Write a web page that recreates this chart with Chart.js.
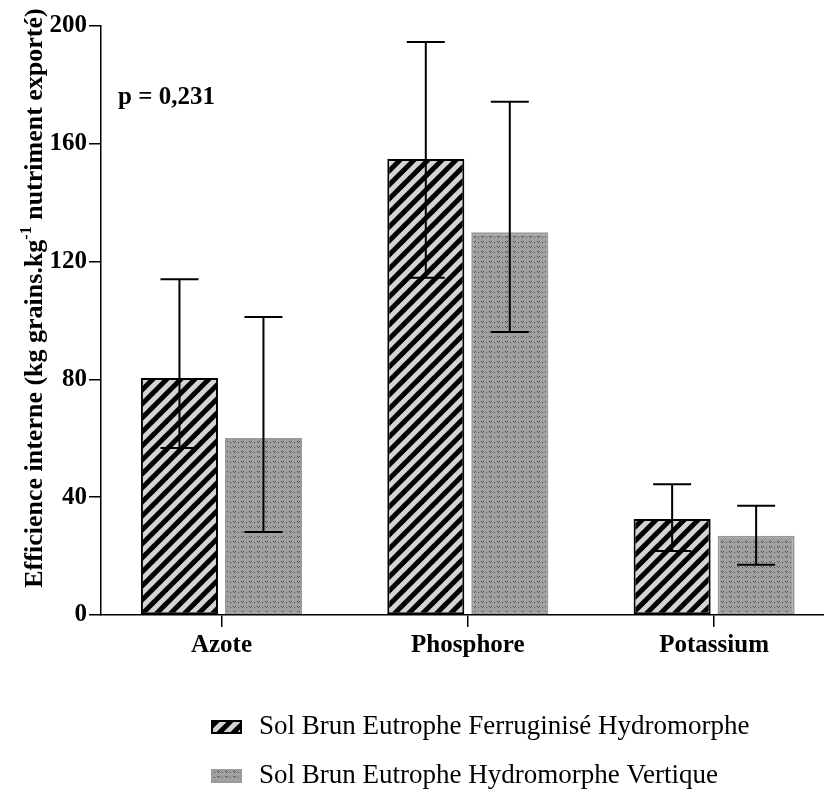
<!DOCTYPE html>
<html>
<head>
<meta charset="utf-8">
<script src="https://cdn.jsdelivr.net/npm/chart.js@4"></script>
<style>
  html, body { margin: 0; padding: 0; background: #fff; }
  #wrap { width: 824px; height: 789px; }
</style>
</head>
<body>
<div id="wrap"><canvas id="chart" width="824" height="789"></canvas></div>
<script>
// categories and series
const categories = ['Azote', 'Phosphore', 'Potassium'];
const seriesNames = [
  'Sol Brun Eutrophe Ferruginisé Hydromorphe',
  'Sol Brun Eutrophe Hydromorphe Vertique',
];
const ferruMeans = [80.5, 154.8, 32.6];
const ferruHigh  = [114.0, 194.6, 44.4];
const ferruLow   = [56.7, 114.5, 21.7];
const vertiMeans = [60.1, 130.0, 26.9];
const vertiHigh  = [101.2, 174.3, 37.1];
const vertiLow   = [28.2, 96.1, 17.1];
const yTicks = [0, 40, 80, 120, 160, 200];
const pLabel = 'p = 0,231';

const SERIF = '"Liberation Serif", "Times New Roman", serif';

function hatchPattern(ctx) {
  const c = document.createElement('canvas');
  c.width = 14; c.height = 14;
  const g = c.getContext('2d');
  g.fillStyle = '#d4d4d4';
  g.fillRect(0, 0, 14, 14);
  g.strokeStyle = '#000';
  g.lineWidth = 5;
  g.lineCap = 'square';
  [[-7, 7, 7, -7], [0, 14, 14, 0], [7, 21, 21, 7]].forEach(([a, b, c2, d]) => {
    g.beginPath(); g.moveTo(a, b); g.lineTo(c2, d); g.stroke();
  });
  return ctx.createPattern(c, 'repeat');
}

function dotPattern(ctx) {
  const c = document.createElement('canvas');
  c.width = 8; c.height = 5;
  const g = c.getContext('2d');
  g.fillStyle = '#a0a0a0';
  g.fillRect(0, 0, 8, 5);
  g.fillStyle = '#505050';
  // little "v" marks
  g.fillRect(1, 1, 1, 1);
  g.fillRect(3, 1, 1, 1);
  g.fillRect(2, 2, 1, 1);
  g.fillRect(6, 2, 1, 1);
  return ctx.createPattern(c, 'repeat');
}

const canvas = document.getElementById('chart');
const ctx = canvas.getContext('2d');
const hatch = hatchPattern(ctx);
const dots = dotPattern(ctx);

const errors = [
  { high: ferruHigh, low: ferruLow },
  { high: vertiHigh, low: vertiLow },
];

const errorBars = {
  id: 'errorBars',
  afterDatasetsDraw(chart) {
    const g = chart.ctx;
    const y = chart.scales.y;
    g.save();
    g.strokeStyle = '#000';
    g.lineWidth = 2;
    chart.data.datasets.forEach((ds, di) => {
      chart.getDatasetMeta(di).data.forEach((bar, i) => {
        const hi = y.getPixelForValue(errors[di].high[i]);
        const lo = y.getPixelForValue(errors[di].low[i]);
        const half = 19;
        g.beginPath();
        g.moveTo(bar.x, lo); g.lineTo(bar.x, hi);
        g.moveTo(bar.x - half, hi); g.lineTo(bar.x + half, hi);
        g.moveTo(bar.x - half, lo); g.lineTo(bar.x + half, lo);
        g.stroke();
      });
    });
    g.restore();
  },
};

const extras = {
  id: 'extras',
  afterDraw(chart) {
    const g = chart.ctx;
    g.save();
    g.fillStyle = '#000';

    // p value
    g.font = 'bold 25px ' + SERIF;
    g.textBaseline = 'middle';
    g.textAlign = 'left';
    g.fillText(pLabel, 118, 98);

    // y axis title with superscript
    const big = 'bold 26px ' + SERIF;
    const small = 'bold 16px ' + SERIF;
    const parts = [
      ['Efficience interne (kg grains.kg', big, 0],
      ['-1', small, -11],
      [' nutriment exporté)', big, 0],
    ];
    let total = 0;
    parts.forEach(p => { g.font = p[1]; total += g.measureText(p[0]).width; });
    g.textBaseline = 'alphabetic';
    g.translate(42, 298);
    g.rotate(-Math.PI / 2);
    let x = -total / 2;
    parts.forEach(p => {
      g.font = p[1];
      g.fillText(p[0], x, p[2]);
      x += g.measureText(p[0]).width;
    });
    g.setTransform(1, 0, 0, 1, 0, 0);

    // legend
    const fills = [hatch, dots];
    const borders = ['#000', '#9a9a9a'];
    const rows = [727, 776];
    g.textBaseline = 'middle';
    g.font = '27px ' + SERIF;
    seriesNames.forEach((name, i) => {
      g.fillStyle = fills[i];
      g.fillRect(211, rows[i] - 7, 31, 14);
      g.strokeStyle = borders[i];
      g.lineWidth = 2;
      g.strokeRect(212, rows[i] - 6, 29, 12);
      g.fillStyle = '#000';
      g.fillText(name, 259, rows[i]);
    });
    g.restore();
  },
};

new Chart(canvas, {
  type: 'bar',
  data: {
    datasets: [
      {
        label: seriesNames[0],
        data: ferruMeans.map((v, i) => ({ x: i, y: v })),
        backgroundColor: hatch,
        borderColor: '#000',
        borderWidth: 2,
        borderSkipped: false,
      },
      {
        label: seriesNames[1],
        data: vertiMeans.map((v, i) => ({ x: i, y: v })),
        backgroundColor: dots,
        borderColor: '#9a9a9a',
        borderWidth: 2,
        borderSkipped: false,
      },
    ],
  },
  options: {
    responsive: false,
    animation: false,
    categoryPercentage: 0.682,
    barPercentage: 0.917,
    layout: { padding: { top: 26, left: 0, right: 0, bottom: 0 } },
    plugins: {
      legend: { display: false },
      tooltip: { enabled: false },
    },
    scales: {
      x: {
        type: 'linear',
        offset: false,
        min: -0.489,
        max: 2.446,
        afterBuildTicks: s => { s.ticks = categories.map((c, i) => ({ value: i })); },
        afterFit: s => { s.height = 174; },
        ticks: {
          callback: v => categories[v],
          color: '#000',
          font: { family: SERIF, size: 25, weight: 'bold' },
          padding: 4,
          maxRotation: 0,
        },
        grid: { offset: false, drawOnChartArea: false, tickLength: 12, color: '#000', lineWidth: 1.5 },
        border: { color: '#000', width: 1.5 },
      },
      y: {
        min: 0,
        max: 200,
        afterBuildTicks: s => { s.ticks = yTicks.map(v => ({ value: v })); },
        afterFit: s => { s.width = 101; },
        ticks: {
          color: '#000',
          font: { family: SERIF, size: 25, weight: 'bold' },
          padding: 2,
        },
        grid: { drawOnChartArea: false, tickLength: 12, color: '#000', lineWidth: 1.5 },
        border: { color: '#000', width: 1.5 },
      },
    },
  },
  plugins: [errorBars, extras],
});
</script>
</body>
</html>
